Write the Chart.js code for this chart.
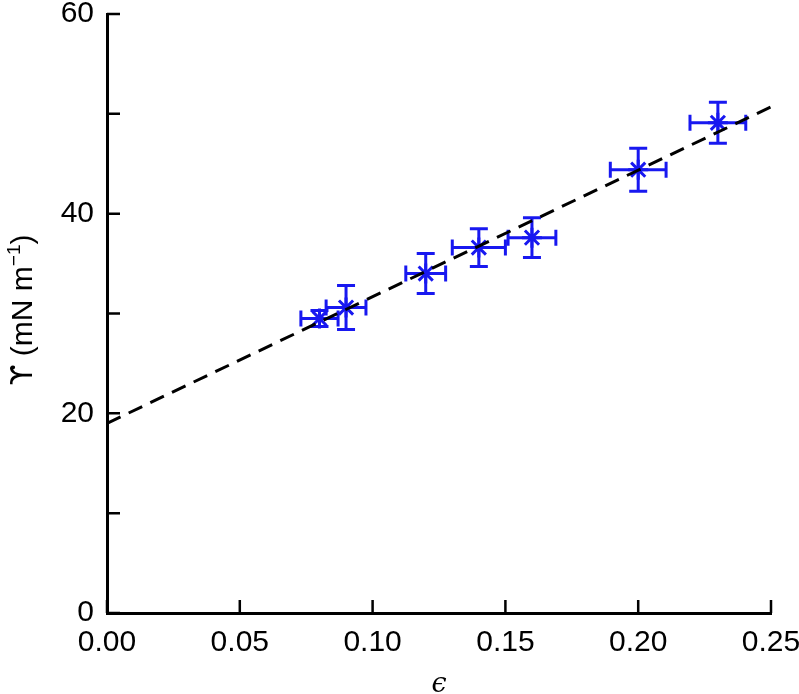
<!DOCTYPE html>
<html>
<head>
<meta charset="utf-8">
<script src="https://cdn.jsdelivr.net/npm/chart.js@4"></script>
<style>
  html, body { margin: 0; padding: 0; background: #fff; }
  #wrap { width: 799px; height: 694px; position: relative; }
</style>
</head>
<body>
<div id="wrap"><canvas id="chart"></canvas></div>
<script>
// 数据
const epsVals = [0.08, 0.09, 0.12, 0.14, 0.16, 0.20, 0.23];
const gammaVals = [29.5, 30.6, 34.0, 36.6, 37.6, 44.4, 49.1];
const epsErr = [0.007, 0.0075, 0.0075, 0.010, 0.009, 0.0105, 0.0105];
const gammaErr = [0.8, 2.2, 2.0, 1.9, 2.0, 2.15, 2.05];
// 拟合线端点
const fitX = [0, 0.25];
const fitY = [19.0, 50.7];
// 坐标轴标题
const xTitle = 'ϵ';
const yTitleSym = 'ϒ';
const yTitleUnit = ' (mN m';
const yTitleExp = '−1';

const BLUE = 'rgb(24, 24, 240)';
const FONT = '"Liberation Sans", Arial, Helvetica, sans-serif';

// 误差棒
const errorBars = {
    id: 'errorBars',
    beforeDatasetsDraw(chart) {
        const ctx = chart.ctx;
        const xs = chart.scales.x, ys = chart.scales.y;
        ctx.save();
        ctx.strokeStyle = BLUE;
        ctx.lineWidth = 3;
        epsVals.forEach((e, i) => {
            const px = xs.getPixelForValue(e);
            const py = ys.getPixelForValue(gammaVals[i]);
            const x0 = xs.getPixelForValue(e - epsErr[i]);
            const x1 = xs.getPixelForValue(e + epsErr[i]);
            const y0 = ys.getPixelForValue(gammaVals[i] - gammaErr[i]);
            const y1 = ys.getPixelForValue(gammaVals[i] + gammaErr[i]);
            ctx.beginPath();
            ctx.moveTo(x0, py); ctx.lineTo(x1, py);
            ctx.moveTo(x0, py - 8); ctx.lineTo(x0, py + 8);
            ctx.moveTo(x1, py - 8); ctx.lineTo(x1, py + 8);
            ctx.moveTo(px, y0); ctx.lineTo(px, y1);
            ctx.moveTo(px - 9, y0); ctx.lineTo(px + 9, y0);
            ctx.moveTo(px - 9, y1); ctx.lineTo(px + 9, y1);
            ctx.stroke();
        });
        ctx.restore();
    }
};

// 向内刻度 + 坐标轴标题
const axisDecor = {
    id: 'axisDecor',
    afterDraw(chart) {
        const ctx = chart.ctx;
        const xs = chart.scales.x, ys = chart.scales.y;
        const a = chart.chartArea;
        ctx.save();
        ctx.strokeStyle = '#000';
        ctx.lineWidth = 2.5;
        ctx.beginPath();
        xs.ticks.forEach(t => {
            const p = xs.getPixelForValue(t.value);
            ctx.moveTo(p, a.bottom); ctx.lineTo(p, a.bottom - 13);
        });
        ys.ticks.forEach(t => {
            const p = ys.getPixelForValue(t.value);
            ctx.moveTo(a.left, p); ctx.lineTo(a.left + 13, p);
        });
        ctx.stroke();

        // x 标题
        ctx.fillStyle = '#000';
        ctx.font = 'italic 27px "DejaVu Serif", serif';
        ctx.textAlign = 'center';
        ctx.textBaseline = 'alphabetic';
        ctx.fillText(xTitle, (a.left + a.right) / 2, 692);

        // y 标题（旋转）
        const symFont = '30px "DejaVu Sans", sans-serif';
        const mainFont = '30px ' + FONT;
        const expFont = '19px ' + FONT;
        ctx.font = symFont; const w1 = ctx.measureText(yTitleSym).width;
        ctx.font = mainFont; const w2 = ctx.measureText(yTitleUnit).width;
        ctx.font = expFont; const w3 = ctx.measureText(yTitleExp).width;
        ctx.font = mainFont; const w4 = ctx.measureText(')').width;
        const total = w1 + w2 + w3 + w4;
        ctx.translate(32, 310);
        ctx.rotate(-Math.PI / 2);
        ctx.textAlign = 'left';
        let cx = -total / 2;
        ctx.font = symFont; ctx.fillText(yTitleSym, cx, 0); cx += w1;
        ctx.font = mainFont; ctx.fillText(yTitleUnit, cx, 0); cx += w2;
        ctx.font = expFont; ctx.fillText(yTitleExp, cx, -12); cx += w3;
        ctx.font = mainFont; ctx.fillText(')', cx, 0);
        ctx.restore();
    }
};

new Chart(document.getElementById('chart'), {
    type: 'scatter',
    data: {
        datasets: [
            {
                type: 'line',
                data: fitX.map((x, i) => ({ x: x, y: fitY[i] })),
                borderColor: '#000',
                borderWidth: 3,
                borderDash: [15, 9],
                pointRadius: 0,
                fill: false,
                order: 0
            },
            {
                data: epsVals.map((x, i) => ({ x: x, y: gammaVals[i] })),
                pointStyle: 'star',
                pointRadius: 10,
                borderColor: BLUE,
                backgroundColor: BLUE,
                pointBorderWidth: 3,
                order: 1
            }
        ]
    },
    options: {
        responsive: true,
        maintainAspectRatio: false,
        animation: false,
        layout: { padding: { top: 14, right: 28, left: 0, bottom: 0 } },
        plugins: { legend: { display: false }, tooltip: { enabled: false } },
        scales: {
            x: {
                type: 'linear',
                min: 0, max: 0.25,
                afterFit(s) { s.height = 81; s.paddingLeft = 0; s.paddingRight = 0; },
                ticks: {
                    stepSize: 0.05,
                    padding: 12,
                    color: '#000',
                    maxRotation: 0,
                    font: { family: FONT, size: 30 },
                    callback: v => v.toFixed(2)
                },
                grid: { drawOnChartArea: false, drawTicks: false },
                border: { color: '#000', width: 3 }
            },
            y: {
                min: 0, max: 60,
                afterFit(s) { s.width = 107; s.paddingTop = 0; s.paddingBottom = 0; },
                ticks: {
                    stepSize: 10,
                    padding: 13,
                    color: '#000',
                    font: { family: FONT, size: 30 },
                    callback: v => (v % 20 === 0 ? v : '')
                },
                grid: { drawOnChartArea: false, drawTicks: false },
                border: { color: '#000', width: 3 }
            }
        }
    },
    plugins: [errorBars, axisDecor]
});
</script>
</body>
</html>
